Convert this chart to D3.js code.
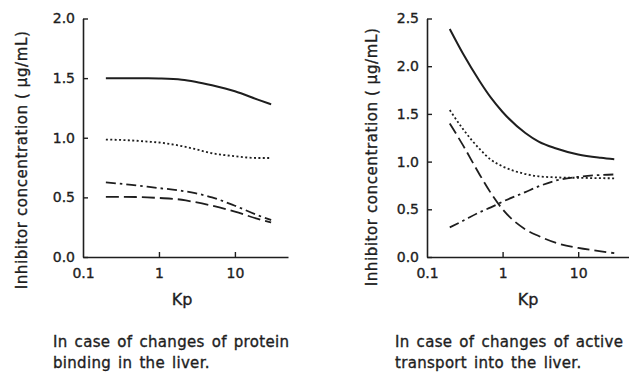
<!DOCTYPE html>
<html>
<head>
<meta charset="utf-8">
<script src="https://cdn.jsdelivr.net/npm/d3@7"></script>
<style>
  body { margin: 0; background: #fff; }
  text { font-family: "DejaVu Sans", Verdana, sans-serif; fill: #1e1e1e; stroke: #1e1e1e; stroke-width: 0.35px; }
</style>
</head>
<body>
<div class="figure"></div>
<script>
// Kp values where curves were read
const kp = [0.2, 0.3, 0.5, 0.7, 1, 2, 3, 5, 10, 20, 30];

// left panel: protein binding changes
const leftSolid   = [1.50, 1.50, 1.50, 1.499, 1.497, 1.487, 1.47, 1.44, 1.39, 1.32, 1.28];
const leftDotted  = [0.985, 0.982, 0.975, 0.968, 0.96, 0.93, 0.905, 0.87, 0.845, 0.83, 0.83];
const leftDashDot = [0.625, 0.615, 0.60, 0.59, 0.578, 0.555, 0.535, 0.50, 0.43, 0.35, 0.31];
const leftDashed  = [0.505, 0.505, 0.503, 0.50, 0.495, 0.48, 0.46, 0.43, 0.38, 0.32, 0.29];

// right panel: active transport changes
const rightSolid   = [2.39, 2.13, 1.84, 1.67, 1.52, 1.30, 1.21, 1.14, 1.075, 1.04, 1.025];
const rightDotted  = [1.54, 1.34, 1.13, 1.02, 0.95, 0.87, 0.845, 0.835, 0.83, 0.826, 0.825];
const rightDashDot = [0.31, 0.38, 0.47, 0.52, 0.58, 0.68, 0.74, 0.80, 0.84, 0.86, 0.865];
const rightDashed  = [1.40, 1.17, 0.86, 0.67, 0.50, 0.29, 0.22, 0.15, 0.095, 0.06, 0.04];

const xTicks = [0.1, 1, 10];
const leftYTicks = [0, 0.5, 1.0, 1.5, 2.0];
const rightYTicks = [0, 0.5, 1.0, 1.5, 2.0, 2.5];

const yLabel = "Inhibitor concentration ( \u03bcg/mL)";
const leftCaption = ["In case of changes of protein", "binding in the liver."];
const rightCaption = ["In case of changes of active", "transport into the liver."];

const W = 629, H = 377;
const svg = d3.select("div.figure").append("svg")
  .attr("width", W)
  .attr("height", H);

const ink = "#1e1e1e";

function panel(opt) {
  const x = d3.scaleLog().domain([0.1, opt.xMax]).range([opt.x0, opt.x1]);
  const y = d3.scaleLinear().domain([0, opt.yMax]).range([257, 18.5]);

  const g = svg.append("g");

  // axes, ticks pointing inwards
  const xa = g.append("g")
    .attr("transform", "translate(0,257)")
    .call(d3.axisBottom(x).tickValues(xTicks).tickFormat(d => d)
      .tickSizeInner(-5).tickSizeOuter(0).tickPadding(11));
  const ya = g.append("g")
    .attr("transform", `translate(${opt.x0},0)`)
    .call(d3.axisLeft(y).tickValues(opt.yTicks).tickFormat(d3.format(".1f"))
      .tickSizeInner(-5).tickSizeOuter(0).tickPadding(8));

  [xa, ya].forEach(a => {
    a.select(".domain").attr("stroke", ink).attr("stroke-width", 1.6);
    a.selectAll(".tick line").attr("stroke", ink).attr("stroke-width", 1.4);
    a.selectAll(".tick text").style("font-size", "14px").attr("fill", ink);
  });
  xa.selectAll(".tick").filter(d => d === 0.1).select("line").remove();

  const line = d3.line()
    .x((d, i) => x(kp[i]))
    .y(d => y(d))
    .curve(d3.curveMonotoneX);

  opt.series.forEach(s => {
    g.append("path")
      .datum(s.values)
      .attr("d", line)
      .attr("fill", "none")
      .attr("stroke", ink)
      .attr("stroke-width", s.width)
      .attr("stroke-dasharray", s.dash);
  });

  // axis titles
  g.append("text")
    .attr("x", opt.kpX)
    .attr("y", 305)
    .attr("text-anchor", "middle")
    .style("font-size", "16px")
    .text("Kp");

  g.append("text")
    .attr("transform", "rotate(-90)")
    .attr("x", -opt.labelY)
    .attr("y", opt.labelX)
    .attr("text-anchor", "middle")
    .style("font-size", "15px")
    .style("letter-spacing", "0.6px")
    .text(yLabel);

  // caption under the panel
  opt.caption.forEach((t, i) => {
    g.append("text")
      .attr("x", opt.capX)
      .attr("y", 347 + i * 21)
      .style("font-size", "15px")
      .style("letter-spacing", "0.3px")
      .style("word-spacing", "2px")
      .text(t);
  });
}

panel({
  x0: 83, x1: 288, xMax: 50, yMax: 2.0, yTicks: leftYTicks,
  kpX: 182, labelX: 27, labelY: 160, capX: 53, caption: leftCaption,
  series: [
    {values: leftSolid, dash: null, width: 2},
    {values: leftDotted, dash: "2,2.4", width: 1.8},
    {values: leftDashDot, dash: "10,4,2.5,4", width: 1.8},
    {values: leftDashed, dash: "13,5", width: 1.8}
  ]
});

panel({
  x0: 427, x1: 629, xMax: 47, yMax: 2.5, yTicks: rightYTicks,
  kpX: 528, labelX: 377, labelY: 157, capX: 395, caption: rightCaption,
  series: [
    {values: rightSolid, dash: null, width: 2},
    {values: rightDotted, dash: "2,2.4", width: 1.8},
    {values: rightDashDot, dash: "10,4,2.5,4", width: 1.8},
    {values: rightDashed, dash: "12,5", width: 1.8}
  ]
});
</script>
</body>
</html>
